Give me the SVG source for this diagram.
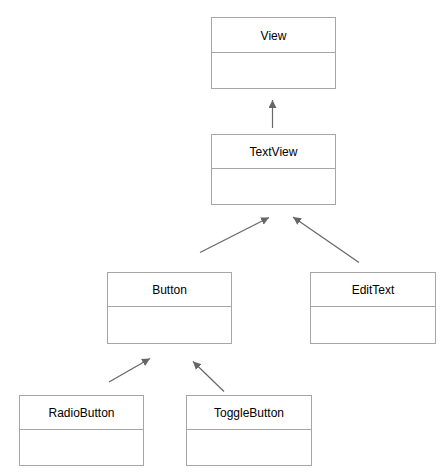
<svg xmlns="http://www.w3.org/2000/svg" width="448" height="474" viewBox="0 0 448 474">
<defs>
<style>
.box{fill:#fff;stroke:#a6a6a6;stroke-width:1}
.div{stroke:#a6a6a6;stroke-width:1}
.lbl{font-family:"Liberation Sans",Arial,sans-serif;font-size:12px;fill:#000;text-anchor:middle;dominant-baseline:central}
.edge{stroke:#666;stroke-width:1.2;fill:none;marker-end:url(#tri)}
</style>
<marker id="tri" viewBox="0 0 10 10" refX="10" refY="5" markerWidth="8" markerHeight="8" markerUnits="userSpaceOnUse" orient="auto">
<path d="M0,0 L10,5 L0,10 z" fill="#666"/>
</marker>
</defs>
<rect width="448" height="474" fill="#fff"/>
<g id="connectors">
<line class="edge" x1="272.5" y1="128" x2="272.5" y2="100"/>
<line class="edge" x1="200" y1="252.5" x2="269" y2="217.5"/>
<line class="edge" x1="359" y1="262.5" x2="293" y2="217"/>
<line class="edge" x1="109" y1="382" x2="150" y2="358.5"/>
<line class="edge" x1="224" y1="391.5" x2="193" y2="361.5"/>
</g>
<g id="View">
<rect class="box" x="211.5" y="17.5" width="124" height="71"/>
<line class="div" x1="211.5" y1="52.5" x2="335.5" y2="52.5"/>
<text class="lbl" x="273.5" y="35.5">View</text>
</g>
<g id="TextView">
<rect class="box" x="211.5" y="134.5" width="124" height="70"/>
<line class="div" x1="211.5" y1="168.5" x2="335.5" y2="168.5"/>
<text class="lbl" x="273.5" y="151.5">TextView</text>
</g>
<g id="Button">
<rect class="box" x="107.5" y="272.5" width="124" height="71"/>
<line class="div" x1="107.5" y1="306.5" x2="231.5" y2="306.5"/>
<text class="lbl" x="169.5" y="289.5">Button</text>
</g>
<g id="EditText">
<rect class="box" x="310.5" y="272.5" width="125" height="71"/>
<line class="div" x1="310.5" y1="306.5" x2="435.5" y2="306.5"/>
<text class="lbl" x="373" y="289.5">EditText</text>
</g>
<g id="RadioButton">
<rect class="box" x="19.5" y="395.5" width="124" height="70"/>
<line class="div" x1="19.5" y1="429.5" x2="143.5" y2="429.5"/>
<text class="lbl" x="81.5" y="412.5">RadioButton</text>
</g>
<g id="ToggleButton">
<rect class="box" x="186.5" y="395.5" width="125" height="70"/>
<line class="div" x1="186.5" y1="429.5" x2="311.5" y2="429.5"/>
<text class="lbl" x="249" y="412.5">ToggleButton</text>
</g>
</svg>
